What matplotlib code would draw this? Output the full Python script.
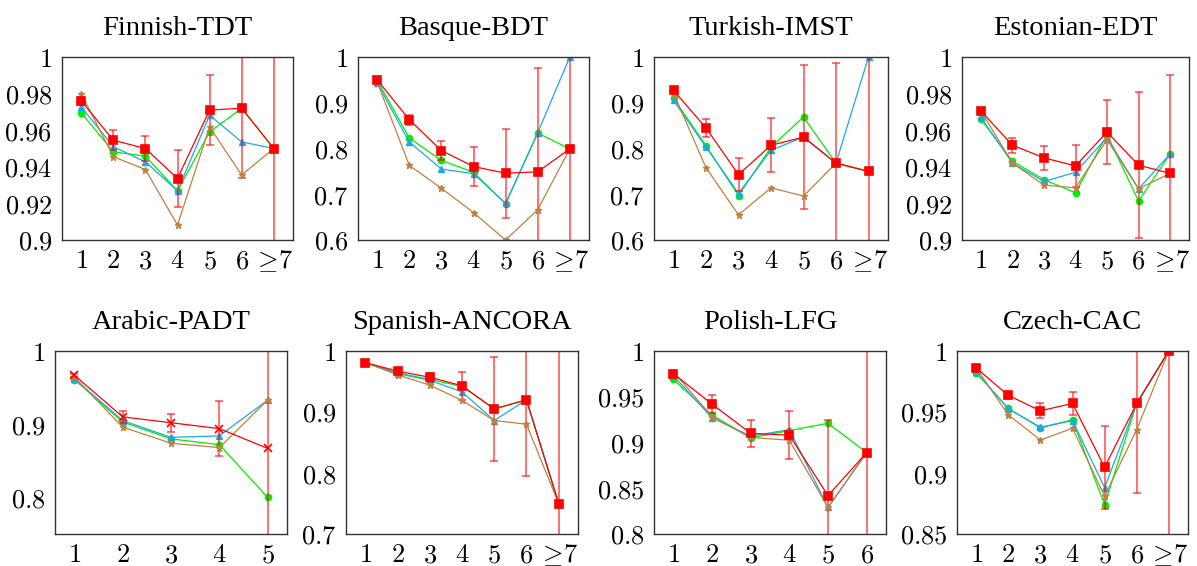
"""Accuracy by distance bucket, eight treebanks in a 2x4 grid."""
import matplotlib

matplotlib.use("Agg")
import matplotlib.pyplot as plt  # noqa: E402

plt.rcParams["mathtext.fontset"] = "cm"

RED = "#ff0000"
CYAN = "#1fa8e6"
GREEN = "#00ee00"
BROWN = "#c08040"

xlab7 = ["1", "2", "3", "4", "5", "6", r"$\geq\!7$"]
xlab6 = ["1", "2", "3", "4", "5", "6"]
xlab5 = ["1", "2", "3", "4", "5"]

# ── Finnish-TDT
fi_red = [0.976, 0.9545, 0.950, 0.9336, 0.971, 0.972, 0.950]
fi_err = [0.002, 0.0055, 0.007, 0.0155, 0.019, 0.038, 0.10]
fi_cyan = [0.9727, 0.951, 0.9427, 0.9269, 0.9682, 0.9536, 0.950]
fi_green = [0.9695, 0.9482, 0.9458, 0.9269, 0.959, 0.972, 0.950]
fi_brown = [0.980, 0.9455, 0.9385, 0.9082, 0.9618, 0.9355, 0.950]

# ── Basque-BDT
eu_red = [0.950, 0.8628, 0.7956, 0.7606, 0.746, 0.749, 0.799]
eu_err = [0.004, 0.011, 0.020, 0.043, 0.097, 0.228, 0.30]
eu_cyan = [0.943, 0.814, 0.755, 0.745, 0.680, 0.834, 1.0]
eu_green = [0.949, 0.823, 0.774, 0.748, 0.679, 0.834, 0.799]
eu_brown = [0.945, 0.763, 0.713, 0.660, 0.600, 0.666, 0.799]

# ── Turkish-IMST
tr_red = [0.927, 0.845, 0.743, 0.807, 0.825, 0.768, 0.750]
tr_err = [0.006, 0.019, 0.036, 0.059, 0.157, 0.219, 0.30]
tr_cyan = [0.905, 0.803, 0.702, 0.796, 0.825, 0.768, 1.0]
tr_green = [0.910, 0.806, 0.697, 0.803, 0.869, 0.768, 0.750]
tr_brown = [0.921, 0.758, 0.655, 0.714, 0.696, 0.768, 0.750]

# ── Estonian-EDT
et_red = [0.9705, 0.9518, 0.9449, 0.9405, 0.959, 0.9409, 0.9364]
et_err = [0.001, 0.004, 0.0065, 0.0113, 0.0174, 0.040, 0.054]
et_cyan = [0.967, 0.942, 0.932, 0.937, 0.956, 0.928, 0.947]
et_green = [0.966, 0.943, 0.933, 0.9258, 0.9576, 0.9213, 0.947]
et_brown = [0.9705, 0.942, 0.930, 0.9285, 0.9549, 0.928, 0.9364]

# ── Arabic-PADT
ar_red = [0.967, 0.910, 0.902, 0.894, 0.867]
ar_err = [0.002, 0.008, 0.012, 0.038, 0.30]
ar_cyan = [0.962, 0.905, 0.882, 0.884, 0.933]
ar_green = [0.961, 0.903, 0.880, 0.872, 0.800]
ar_brown = [0.9645, 0.896, 0.874, 0.868, 0.933]

# ── Spanish-ANCORA
es_red = [0.981, 0.967, 0.957, 0.943, 0.905, 0.920, 0.750]
es_err = [0.001, 0.002, 0.007, 0.023, 0.085, 0.125, 0.30]
es_cyan = [0.981, 0.963, 0.952, 0.933, 0.886, 0.920, 0.750]
es_green = [0.981, 0.964, 0.9535, 0.942, 0.905, 0.920, 0.750]
es_brown = [0.981, 0.961, 0.944, 0.919, 0.886, 0.880, 0.750]

# ── Polish-LFG
pl_red = [0.9753, 0.942, 0.910, 0.908, 0.842, 0.889]
pl_err = [0.003, 0.010, 0.015, 0.026, 0.083, 0.30]
pl_cyan = [0.973, 0.927, 0.907, 0.914, 0.829, 0.889]
pl_green = [0.969, 0.930, 0.905, 0.913, 0.921, 0.889]
pl_brown = [0.9775, 0.928, 0.9055, 0.9025, 0.829, 0.889]

# ── Czech-CAC
cs_red = [0.986, 0.9636, 0.951, 0.957, 0.9047, 0.957, 1.0]
cs_err = [0.001, 0.003, 0.006, 0.0095, 0.034, 0.073, 0.20]
cs_cyan = [0.9827, 0.9526, 0.9375, 0.943, 0.888, 0.957, 1.0]
cs_green = [0.982, 0.953, 0.937, 0.9435, 0.874, 0.957, 1.0]
cs_brown = [0.986, 0.9477, 0.927, 0.9367, 0.881, 0.9356, 1.0]

panels = [
    ("Finnish-TDT", (0.9, 1.0), [0.9, 0.92, 0.94, 0.96, 0.98, 1.0], xlab7, fi_red, fi_err, fi_cyan, fi_green, fi_brown, "s"),
    ("Basque-BDT", (0.6, 1.0), [0.6, 0.7, 0.8, 0.9, 1.0], xlab7, eu_red, eu_err, eu_cyan, eu_green, eu_brown, "s"),
    ("Turkish-IMST", (0.6, 1.0), [0.6, 0.7, 0.8, 0.9, 1.0], xlab7, tr_red, tr_err, tr_cyan, tr_green, tr_brown, "s"),
    ("Estonian-EDT", (0.9, 1.0), [0.9, 0.92, 0.94, 0.96, 0.98, 1.0], xlab7, et_red, et_err, et_cyan, et_green, et_brown, "s"),
    ("Arabic-PADT", (0.75, 1.0), [0.8, 0.9, 1.0], xlab5, ar_red, ar_err, ar_cyan, ar_green, ar_brown, "x"),
    ("Spanish-ANCORA", (0.7, 1.0), [0.7, 0.8, 0.9, 1.0], xlab7, es_red, es_err, es_cyan, es_green, es_brown, "s"),
    ("Polish-LFG", (0.8, 1.0), [0.8, 0.85, 0.9, 0.95, 1.0], xlab6, pl_red, pl_err, pl_cyan, pl_green, pl_brown, "s"),
    ("Czech-CAC", (0.85, 1.0), [0.85, 0.9, 0.95, 1.0], xlab7, cs_red, cs_err, cs_cyan, cs_green, cs_brown, "s"),
]

# axes boxes in pixels (left, right) per column, row tops/bottoms
W, H = 1197, 566
cols_top = [(62, 293), (358, 589), (654, 888), (962, 1189)]
cols_bot = [(55, 287), (346, 578), (654, 886), (957, 1188)]
rows = [(57, 240), (351, 534)]

fig = plt.figure(figsize=(W / 100, H / 100), dpi=100)

for i, (title, ylim, yticks, xlabels, red, err, cyan, green, brown, rmark) in enumerate(panels):
    r, c = divmod(i, 4)
    x0, x1 = (cols_top if r == 0 else cols_bot)[c]
    yt, yb = rows[r]
    ax = fig.add_axes([x0 / W, 1 - yb / H, (x1 - x0) / W, (yb - yt) / H])

    xs = list(range(1, len(xlabels) + 1))
    span = xs[-1] - xs[0]
    ax.plot(xs, green, color=GREEN, marker="o", ms=4.5, lw=0.9)
    ax.plot(xs, cyan, color=CYAN, marker="^", ms=4, lw=0.9)
    ax.errorbar(xs, red, yerr=err, color=RED, marker=rmark, ms=5.5 if rmark == "s" else 6,
                mew=1.2, lw=0.9, ecolor=(1, 0, 0, 0.65), elinewidth=1.2, capsize=3)
    ax.plot(xs, brown, color=BROWN, marker="*", ms=4.5, lw=0.9)

    ax.set_xlim(xs[0] - 0.1 * span, xs[-1] + 0.1 * span)
    ax.set_ylim(*ylim)
    ax.set_xticks(xs)
    ax.set_xticklabels([lb if lb.startswith("$") else f"${lb}$" for lb in xlabels])
    ax.set_yticks(yticks)
    ax.set_yticklabels([f"${v:g}$" for v in yticks])
    ax.tick_params(length=0, labelsize=19)
    ax.tick_params(axis="x", pad=6)
    ax.tick_params(axis="y", pad=7)
    for sp in ax.spines.values():
        sp.set_color("#333333")
        sp.set_linewidth(1.0)
    ax.set_title(title, family="Liberation Serif", fontsize=20.5, pad=16)

fig.savefig("out.png", dpi=100)
plt.close(fig)
